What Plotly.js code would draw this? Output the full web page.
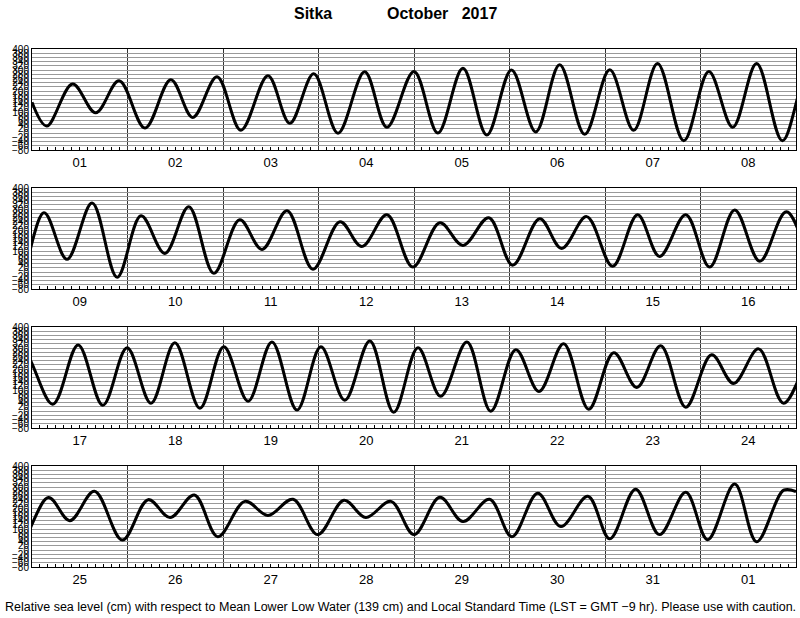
<!DOCTYPE html>
<html><head><meta charset="utf-8">
<script src="https://cdn.plot.ly/plotly-3.0.1.min.js"></script>
<style>html,body{margin:0;padding:0;background:#fff}#chart{width:800px;height:618px}</style>
</head><body><div id="chart"></div>
<script>
// Panel first days (local standard time) and ends
const panelStarts = ['2017-10-01', '2017-10-09', '2017-10-17', '2017-10-25'];
const panelEnds   = ['2017-10-09', '2017-10-17', '2017-10-25', '2017-11-02'];

// High / low water times (hours after the panel's first midnight) and levels (cm)
const p1Hours = [0, 3.7, 10.2, 16.0, 21.9, 28.4, 34.9, 40.4, 46.5, 52.5, 59.3, 64.8, 70.8, 76.9, 83.6, 89.2, 96.0, 102.0, 108.3, 114.3, 120.5, 126.6, 132.6, 138.9, 145.2, 151.2, 157.2, 163.8, 170.1, 176.1, 182.1, 188.6];
const p1Level = [147, 34, 234, 97, 249, 24, 254, 75, 268, 14, 273, 47, 282, 0, 292, 28, 293, 1, 309, -9, 300, 6, 325, -5, 301, 14, 331, -36, 293, 28, 331, -36];

const p2Hours = [3.0, 8.8, 15.1, 21.4, 27.4, 33.4, 39.4, 45.7, 52.2, 57.8, 64.1, 70.6, 77.4, 82.9, 89.2, 95.7, 102.5, 108.3, 114.8, 120.8, 127.6, 133.1, 139.4, 145.9, 152.2, 157.7, 164.3, 170.3, 176.6, 182.9, 189.6];
const p2Level = [282, 61, 329, -24, 268, 89, 311, -5, 249, 108, 292, 14, 240, 122, 273, 24, 235, 127, 259, 33, 254, 113, 264, 28, 273, 75, 273, 24, 296, 52, 287];

const p3Hours = [5.2, 11.6, 17.8, 23.9, 29.9, 35.9, 42.2, 48.2, 54.3, 60.3, 66.6, 72.6, 78.6, 84.9, 90.9, 97.0, 102.7, 109.3, 115.3, 121.6, 127.4, 133.6, 139.9, 146.2, 152.0, 158.0, 164.3, 170.8, 176.3, 182.6, 188.9];
const p3Level = [33, 315, 28, 301, 38, 325, 14, 306, 47, 329, 5, 306, 52, 334, -5, 301, 71, 329, 0, 292, 94, 320, 9, 278, 113, 311, 19, 268, 132, 296, 38];

const p4Hours = [4.1, 9.5, 15.7, 22.7, 29.2, 34.7, 40.8, 46.7, 53.5, 59.3, 65.6, 71.8, 78.4, 83.9, 90.2, 96.0, 102.5, 108.3, 115.0, 120.6, 127.1, 132.9, 139.7, 145.2, 151.7, 157.7, 164.3, 169.8, 176.6, 182.1, 188.9, 192];
const p4Level = [250, 140, 280, 48, 240, 155, 262, 64, 232, 165, 242, 74, 237, 155, 232, 74, 251, 136, 242, 64, 270, 112, 256, 54, 290, 74, 275, 50, 314, 40, 285, 278];

const titleStation = 'Sitka';
const titleMonth = 'October\u00a0\u00a0\u00a02017';
const footnote = 'Relative sea level (cm) with respect to Mean Lower Low Water (139 cm) and Local Standard Time (LST = GMT \u22129 hr). Please use with caution.';

const panelHours = [p1Hours, p2Hours, p3Hours, p4Hours];
const panelLevels = [p1Level, p2Level, p3Level, p4Level];

function toDate(startStr, h) {
  const [Y, M, D] = startStr.split('-').map(Number);
  const ms = Date.UTC(Y, M - 1, D) + h * 3600000;
  return new Date(ms).toISOString().replace('T', ' ').slice(0, 19);
}

// one continuous series so the curve runs across panel edges
const allX = [], allY = [];
panelHours.forEach((hs, i) => {
  hs.forEach((h, j) => { allX.push(toDate(panelStarts[i], h)); allY.push(panelLevels[i][j]); });
});

const W = 800, H = 618;
const plotLeft = 32, plotRight = 796;
const panelTops = [49, 188, 327, 466];
const panelHeight = 101;
const FONT = 'Liberation Sans, Arial, Helvetica, sans-serif';

const traces = [];
const layout = {
  width: W, height: H,
  margin: {l: 0, r: 0, t: 0, b: 0},
  paper_bgcolor: 'white', plot_bgcolor: 'white',
  showlegend: false,
  font: {family: FONT, color: 'black'},
  annotations: [
    {text: '<b>' + titleStation + '</b>', xref: 'paper', yref: 'paper', x: 312.7 / W, y: 1 - 14 / H,
     xanchor: 'center', yanchor: 'middle', showarrow: false, font: {size: 16, family: FONT, color: 'black'}},
    {text: '<b>' + titleMonth + '</b>', xref: 'paper', yref: 'paper', x: 442.2 / W, y: 1 - 14 / H,
     xanchor: 'center', yanchor: 'middle', showarrow: false, font: {size: 16, family: FONT, color: 'black'}},
    {text: footnote, xref: 'paper', yref: 'paper', x: 400 / W, y: 1 - 607 / H,
     xanchor: 'center', yanchor: 'middle', showarrow: false, font: {size: 12.5, family: FONT, color: 'black'}}
  ]
};

for (let i = 0; i < 4; i++) {
  const sfx = i === 0 ? '' : String(i + 1);
  traces.push({
    x: allX, y: allY, type: 'scatter', mode: 'lines',
    xaxis: 'x' + sfx, yaxis: 'y' + sfx,
    line: {color: 'black', width: 3, shape: 'spline', smoothing: 1},
    hoverinfo: 'skip'
  });
  layout['xaxis' + sfx] = {
    type: 'date', anchor: 'y' + sfx,
    domain: [plotLeft / W, plotRight / W],
    range: [panelStarts[i], panelEnds[i]],
    tick0: panelStarts[i], dtick: 86400000,
    tickformat: '%d', ticklabelmode: 'period',
    ticks: '', showgrid: true, gridcolor: '#333', gridwidth: 1,
    showline: true, mirror: true, linecolor: 'black', linewidth: 1,
    zeroline: false, fixedrange: true,
    tickfont: {size: 13, family: FONT, color: 'black'},
    minor: {tick0: panelStarts[i], dtick: 7200000, ticks: 'inside', ticklen: 3, tickcolor: 'black', tickwidth: 1, showgrid: false}
  };
  const top = panelTops[i], bot = top + panelHeight;
  layout['yaxis' + sfx] = {
    anchor: 'x' + sfx,
    domain: [1 - bot / H, 1 - top / H],
    range: [-80, 400], tick0: 0, dtick: 20,
    showgrid: true, gridcolor: '#999', gridwidth: 1,
    zeroline: false, showline: true, mirror: true, linecolor: 'black', linewidth: 1,
    ticks: '', fixedrange: true,
    tickfont: {size: 10, family: FONT, color: 'black'}
  };
}

Plotly.newPlot('chart', traces, layout, {displayModeBar: false, staticPlot: true});
</script>
</body></html>
